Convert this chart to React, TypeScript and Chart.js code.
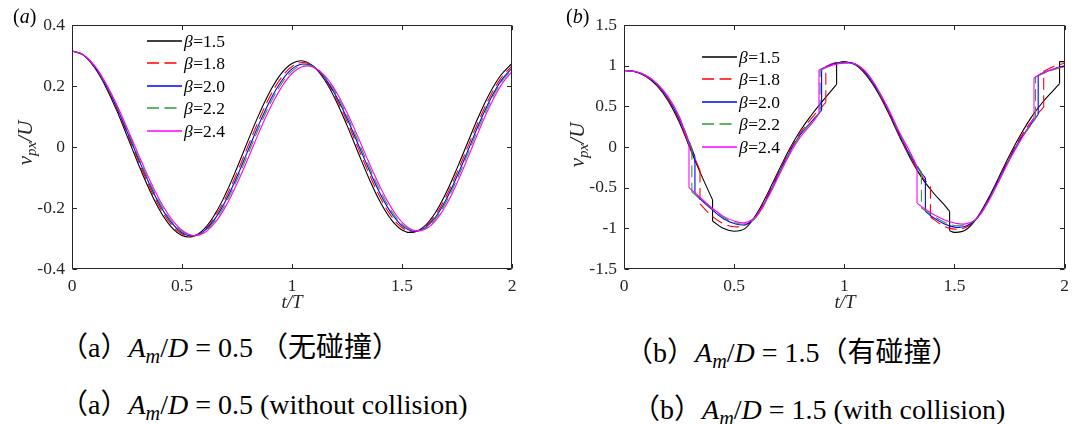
import React, { useEffect, useRef } from 'react';
import { Chart, registerables } from 'chart.js';

Chart.register(...registerables);

// ---------------- data ----------------
const BETA_LABELS = ['1.5', '1.8', '2.0', '2.2', '2.4'];
const X_TICKS = [0, 0.5, 1, 1.5, 2];
const Y_TICKS_A = [-0.4, -0.2, 0, 0.2, 0.4];
const Y_TICKS_B = [-1.5, -1, -0.5, 0, 0.5, 1, 1.5];

// panel (a): t/T samples
const T_A = [0, 0.05, 0.1, 0.15, 0.2, 0.25, 0.3, 0.35, 0.4, 0.45, 0.5, 0.55, 0.6, 0.65, 0.7, 0.75, 0.8, 0.85, 0.9, 0.95, 1,
  1.05, 1.1, 1.15, 1.2, 1.25, 1.3, 1.35, 1.4, 1.45, 1.5, 1.55, 1.6, 1.65, 1.7, 1.75, 1.8, 1.85, 1.9, 1.95, 2];

const VA_B15 = [0.315, 0.302, 0.263, 0.202, 0.125, 0.037, -0.053, -0.137, -0.209, -0.261, -0.290, -0.293, -0.269, -0.220, -0.151, -0.068, 0.021, 0.107, 0.182, 0.240, 0.274,
  0.282, 0.263, 0.218, 0.152, 0.071, -0.017, -0.103, -0.179, -0.237, -0.272, -0.280, -0.261, -0.217, -0.151, -0.070, 0.017, 0.103, 0.178, 0.236, 0.274];
const VA_B18 = [0.315, 0.302, 0.265, 0.206, 0.131, 0.045, -0.043, -0.127, -0.199, -0.253, -0.285, -0.292, -0.273, -0.228, -0.164, -0.084, 0.003, 0.089, 0.166, 0.226, 0.264,
  0.277, 0.262, 0.223, 0.161, 0.084, -0.002, -0.087, -0.164, -0.225, -0.264, -0.278, -0.264, -0.225, -0.163, -0.084, 0.002, 0.088, 0.165, 0.226, 0.266];
const VA_B20 = [0.315, 0.303, 0.266, 0.209, 0.135, 0.051, -0.035, -0.118, -0.191, -0.246, -0.281, -0.291, -0.276, -0.235, -0.174, -0.097, -0.011, 0.075, 0.152, 0.214, 0.256,
  0.272, 0.262, 0.226, 0.168, 0.094, 0.010, -0.074, -0.152, -0.215, -0.258, -0.276, -0.267, -0.232, -0.173, -0.096, -0.011, 0.076, 0.154, 0.217, 0.259];
const VA_B22 = [0.315, 0.303, 0.268, 0.211, 0.139, 0.057, -0.029, -0.112, -0.184, -0.241, -0.277, -0.291, -0.279, -0.241, -0.183, -0.107, -0.023, 0.063, 0.141, 0.205, 0.249,
  0.269, 0.262, 0.229, 0.175, 0.103, 0.021, -0.064, -0.142, -0.207, -0.253, -0.274, -0.269, -0.237, -0.181, -0.106, -0.021, 0.066, 0.146, 0.211, 0.254];
const VA_B24 = [0.315, 0.303, 0.269, 0.214, 0.144, 0.063, -0.021, -0.103, -0.176, -0.234, -0.273, -0.290, -0.282, -0.248, -0.193, -0.120, -0.038, 0.048, 0.127, 0.193, 0.241,
  0.264, 0.261, 0.233, 0.182, 0.113, 0.033, -0.051, -0.130, -0.197, -0.246, -0.272, -0.271, -0.244, -0.191, -0.118, -0.034, 0.054, 0.135, 0.202, 0.248];

// panel (b): [t/T, v/U] pairs; a repeated t marks a collision jump
const VB_B15: [number, number][] = [[0, 0.94], [0.05, 0.925], [0.1, 0.865], [0.15, 0.75], [0.2, 0.57], [0.25, 0.31], [0.3, -0.02], [0.35, -0.34],
  [0.402, -0.65], [0.402, -0.91], [0.45, -1.0], [0.5, -1.035], [0.55, -1.0], [0.6, -0.83], [0.65, -0.58], [0.7, -0.3], [0.75, -0.03],
  [0.8, 0.2], [0.85, 0.39], [0.9, 0.56], [0.965, 0.77], [0.965, 1.03], [1.0, 1.05], [1.05, 1.01], [1.1, 0.88], [1.15, 0.68], [1.2, 0.42],
  [1.25, 0.13], [1.3, -0.14], [1.35, -0.37], [1.4, -0.55], [1.45, -0.7], [1.478, -0.79], [1.478, -1.03], [1.5, -1.05], [1.55, -1.02],
  [1.6, -0.88], [1.65, -0.65], [1.7, -0.38], [1.75, -0.1], [1.8, 0.15], [1.85, 0.37], [1.9, 0.55], [1.95, 0.7], [1.977, 0.78],
  [1.977, 1.05], [2.0, 1.05]];
const VB_B18: [number, number][] = [[0, 0.94], [0.05, 0.927], [0.1, 0.87], [0.15, 0.76], [0.2, 0.585], [0.25, 0.33], [0.3, 0.0],
  [0.345, -0.29], [0.345, -0.7], [0.4, -0.85], [0.45, -0.94], [0.5, -0.98], [0.55, -0.96], [0.6, -0.85], [0.65, -0.6], [0.7, -0.32],
  [0.75, -0.05], [0.8, 0.17], [0.85, 0.35], [0.9, 0.5], [0.916, 0.55], [0.916, 0.99], [0.95, 1.03], [1.0, 1.045], [1.05, 1.015],
  [1.1, 0.89], [1.15, 0.69], [1.2, 0.43], [1.25, 0.14], [1.3, -0.13], [1.35, -0.35], [1.391, -0.49], [1.391, -0.86], [1.45, -0.97],
  [1.5, -1.01], [1.55, -0.99], [1.6, -0.88], [1.65, -0.66], [1.7, -0.4], [1.75, -0.12], [1.8, 0.12], [1.85, 0.32], [1.905, 0.49],
  [1.905, 0.93], [1.95, 0.99], [2.0, 1.03]];
const VB_B20: [number, number][] = [[0, 0.94], [0.05, 0.928], [0.1, 0.875], [0.15, 0.77], [0.2, 0.6], [0.25, 0.35], [0.3, 0.03],
  [0.322, -0.12], [0.322, -0.58], [0.35, -0.65], [0.4, -0.77], [0.45, -0.88], [0.5, -0.94], [0.55, -0.955], [0.6, -0.86], [0.65, -0.62],
  [0.7, -0.34], [0.75, -0.07], [0.8, 0.15], [0.85, 0.31], [0.897, 0.45], [0.897, 0.96], [0.95, 1.02], [1.0, 1.04], [1.05, 1.02],
  [1.1, 0.9], [1.15, 0.7], [1.2, 0.45], [1.25, 0.16], [1.3, -0.11], [1.35, -0.32], [1.368, -0.38], [1.368, -0.79], [1.4, -0.86],
  [1.45, -0.94], [1.5, -0.985], [1.55, -0.975], [1.6, -0.885], [1.65, -0.67], [1.7, -0.41], [1.75, -0.14], [1.8, 0.1], [1.85, 0.29],
  [1.88, 0.4], [1.88, 0.88], [1.9, 0.91], [1.95, 0.96], [2.0, 1.0]];
const VB_B22: [number, number][] = [[0, 0.94], [0.05, 0.929], [0.1, 0.878], [0.15, 0.775], [0.2, 0.61], [0.25, 0.365],
  [0.308, -0.01], [0.308, -0.55], [0.35, -0.64], [0.4, -0.76], [0.45, -0.86], [0.5, -0.93], [0.55, -0.945], [0.6, -0.86], [0.65, -0.63],
  [0.7, -0.35], [0.75, -0.08], [0.8, 0.14], [0.85, 0.3], [0.89, 0.43], [0.89, 0.94], [0.95, 1.01], [1.0, 1.035], [1.05, 1.02],
  [1.1, 0.91], [1.15, 0.71], [1.2, 0.46], [1.25, 0.17], [1.3, -0.09], [1.35, -0.31], [1.35, -0.75], [1.4, -0.84], [1.45, -0.92],
  [1.5, -0.965], [1.55, -0.96], [1.6, -0.885], [1.65, -0.68], [1.7, -0.42], [1.75, -0.15], [1.8, 0.09], [1.85, 0.28], [1.868, 0.35],
  [1.868, 0.86], [1.9, 0.9], [1.95, 0.95], [2.0, 0.99]];
const VB_B24: [number, number][] = [[0, 0.94], [0.05, 0.93], [0.1, 0.88], [0.15, 0.78], [0.2, 0.62], [0.25, 0.38], [0.295, 0.04],
  [0.295, -0.5], [0.35, -0.63], [0.4, -0.75], [0.45, -0.85], [0.5, -0.91], [0.55, -0.93], [0.6, -0.85], [0.65, -0.64], [0.7, -0.37],
  [0.75, -0.1], [0.8, 0.12], [0.85, 0.28], [0.885, 0.41], [0.885, 0.95], [0.95, 1.01], [1.0, 1.03], [1.05, 1.02], [1.1, 0.92],
  [1.15, 0.72], [1.2, 0.47], [1.25, 0.18], [1.3, -0.07], [1.33, -0.24], [1.33, -0.69], [1.35, -0.73], [1.4, -0.82], [1.45, -0.89],
  [1.5, -0.935], [1.55, -0.945], [1.6, -0.88], [1.65, -0.69], [1.7, -0.43], [1.75, -0.16], [1.8, 0.08], [1.861, 0.36], [1.861, 0.85],
  [1.9, 0.91], [1.95, 0.96], [2.0, 0.99]];

const SERIES_A = [VA_B15, VA_B18, VA_B20, VA_B22, VA_B24];
const SERIES_B = [VB_B15, VB_B18, VB_B20, VB_B22, VB_B24];

// ---------------- style ----------------
const COLORS = ['#000000', '#ff0000', '#0000ff', '#2e9e2e', '#ff00ff'];
const DASHES: number[][] = [[], [12, 5.5], [], [12, 5.5], []];
const SERIF = "'Liberation Serif', 'Times New Roman', Times, serif";
const CJK = "'Noto Sans CJK SC', sans-serif";
const AXIS_COLOR = '#262626';
const TICK_SIZE = 17.5;

const framePlugin = {
  id: 'frameTicksLegend',
  afterDatasetsDraw(chart: any, _args: any, opts: any) {
    const { ctx, chartArea: a } = chart;
    const xs = chart.scales.x;
    const ys = chart.scales.y;
    ctx.save();
    ctx.strokeStyle = AXIS_COLOR;
    ctx.lineWidth = 1;
    ctx.setLineDash([]);
    const L = Math.round(a.left) + 0.5;
    const R = Math.round(a.right) - 0.5;
    const T = Math.round(a.top) + 0.5;
    const B = Math.round(a.bottom) - 0.5;
    const tl = 4.5;
    ctx.beginPath();
    ctx.rect(L, T, R - L, B - T);
    for (const v of X_TICKS) {
      const p = Math.round(xs.getPixelForValue(v)) + 0.5;
      ctx.moveTo(p, B); ctx.lineTo(p, B - tl);
      ctx.moveTo(p, T); ctx.lineTo(p, T + tl);
    }
    for (const v of opts.yTicks) {
      const p = Math.round(ys.getPixelForValue(v)) + 0.5;
      ctx.moveTo(L, p); ctx.lineTo(L + tl, p);
      ctx.moveTo(R, p); ctx.lineTo(R - tl, p);
    }
    ctx.stroke();

    // legend (no box)
    const lx = a.left + opts.legendX;
    const ly = a.top + opts.legendY;
    BETA_LABELS.forEach((lab, i) => {
      const y = Math.round(ly + i * opts.legendGap);
      ctx.save();
      ctx.beginPath();
      ctx.strokeStyle = COLORS[i];
      ctx.setLineDash(DASHES[i]);
      ctx.lineWidth = 1.4;
      ctx.moveTo(lx, y);
      ctx.lineTo(lx + 35, y);
      ctx.stroke();
      ctx.restore();
      ctx.fillStyle = '#000';
      ctx.textBaseline = 'middle';
      ctx.textAlign = 'left';
      const tx = lx + 37;
      ctx.font = `italic ${TICK_SIZE}px ${SERIF}`;
      ctx.fillText('β', tx, y + 1);
      const w = ctx.measureText('β').width;
      ctx.font = `${TICK_SIZE}px ${SERIF}`;
      ctx.fillText('=' + lab, tx + w + 0.5, y + 1);
    });
    ctx.restore();
  },
};

function lineDataset(points: { x: number; y: number }[], i: number, tension: number) {
  return {
    data: points,
    borderColor: COLORS[i],
    borderDash: DASHES[i],
    borderWidth: 1.1,
    pointRadius: 0,
    fill: false,
    tension,
    order: 10 - i,
  };
}

function datasetsA() {
  return SERIES_A.map((vals, i) => lineDataset(T_A.map((t, k) => ({ x: t, y: vals[k] })), i, 0.4));
}

function datasetsB() {
  const out: any[] = [];
  SERIES_B.forEach((pts, i) => {
    let piece: { x: number; y: number }[] = [{ x: pts[0][0], y: pts[0][1] }];
    for (let k = 1; k < pts.length; k++) {
      const p = { x: pts[k][0], y: pts[k][1] };
      const q = { x: pts[k - 1][0], y: pts[k - 1][1] };
      if (p.x === q.x) {
        out.push(lineDataset(piece, i, 0.4));
        out.push(lineDataset([q, p], i, 0));
        piece = [p];
      } else {
        piece.push(p);
      }
    }
    out.push(lineDataset(piece, i, 0.4));
  });
  return out;
}

function makeConfig(datasets: any[], yMin: number, yMax: number, yTicks: number[], padRight: number, legendX: number, legendY: number): any {
  const tickFont = { family: SERIF, size: TICK_SIZE };
  return {
    type: 'line',
    data: { datasets },
    plugins: [framePlugin],
    options: {
      animation: false,
      responsive: false,
      maintainAspectRatio: false,
      devicePixelRatio: 1,
      events: [],
      layout: { padding: { left: 0, top: 25, right: padRight, bottom: 0 } },
      plugins: {
        legend: { display: false },
        tooltip: { enabled: false },
        title: { display: false },
        frameTicksLegend: { yTicks, legendX, legendY, legendGap: 22.4 },
      },
      scales: {
        x: {
          type: 'linear',
          min: 0,
          max: 2,
          afterBuildTicks: (s: any) => { s.ticks = X_TICKS.map((v) => ({ value: v })); },
          afterFit: (s: any) => { s.height = 31; },
          ticks: { font: tickFont, color: AXIS_COLOR, padding: 7, maxRotation: 0, autoSkip: false, callback: (v: any) => String(v) },
          grid: { display: false, drawTicks: false },
          border: { display: false },
        },
        y: {
          type: 'linear',
          min: yMin,
          max: yMax,
          afterBuildTicks: (s: any) => { s.ticks = yTicks.map((v) => ({ value: v })); },
          afterFit: (s: any) => { s.width = 72; },
          ticks: { font: tickFont, color: AXIS_COLOR, padding: 7, autoSkip: false, callback: (v: any) => String(v) },
          grid: { display: false, drawTicks: false },
          border: { display: false },
        },
      },
    },
  };
}

const Sub = ({ children }: { children: any }) => (
  <span style={{ fontSize: '0.72em', verticalAlign: '-0.3em' }}>{children}</span>
);

const C = ({ children }: { children: any }) => <span style={{ fontFamily: CJK }}>{children}</span>;

const YTitle = ({ cx, cy }: { cx: number; cy: number }) => (
  <div style={{ position: 'absolute', left: cx, top: cy, transform: 'translate(-50%, -50%) rotate(-90deg)', fontFamily: SERIF, fontSize: 21, fontStyle: 'italic', color: AXIS_COLOR, whiteSpace: 'nowrap', lineHeight: 1 }}>
    v<Sub>px</Sub>/U
  </div>
);

const XTitle = ({ cx, cy }: { cx: number; cy: number }) => (
  <div style={{ position: 'absolute', left: cx, top: cy, transform: 'translate(-50%, -50%)', fontFamily: SERIF, fontSize: 19, fontStyle: 'italic', color: AXIS_COLOR, whiteSpace: 'nowrap', lineHeight: 1 }}>
    t/T
  </div>
);

const captionStyle = (left: number, top: number): React.CSSProperties => ({
  position: 'absolute', left, top, fontFamily: SERIF, fontSize: 28, lineHeight: '30px', color: '#000', whiteSpace: 'nowrap',
});

const Am = () => (
  <>
    <i>A</i><Sub><i>m</i></Sub>/<i>D</i>
  </>
);

export default function App() {
  const refA = useRef<HTMLCanvasElement>(null);
  const refB = useRef<HTMLCanvasElement>(null);

  useEffect(() => {
    const chartA = new Chart(refA.current as HTMLCanvasElement, makeConfig(datasetsA(), -0.4, 0.4, Y_TICKS_A, 28, 75, 16));
    const chartB = new Chart(refB.current as HTMLCanvasElement, makeConfig(datasetsB(), -1.5, 1.5, Y_TICKS_B, 11, 78, 32));
    return () => {
      chartA.destroy();
      chartB.destroy();
    };
  }, []);

  return (
    <div style={{ position: 'absolute', left: 0, top: 0, width: 1076, height: 424, background: '#fff', overflow: 'hidden' }}>
      <canvas ref={refA} width={540} height={300} style={{ position: 'absolute', left: 0, top: 0, width: 540, height: 300 }} />
      <canvas ref={refB} width={524} height={300} style={{ position: 'absolute', left: 552, top: 0, width: 524, height: 300 }} />

      <div style={{ position: 'absolute', left: 13, top: 6, fontFamily: SERIF, fontSize: 20, color: '#000', lineHeight: 1 }}>(<i>a</i>)</div>
      <div style={{ position: 'absolute', left: 566, top: 6, fontFamily: SERIF, fontSize: 20, color: '#000', lineHeight: 1 }}>(<i>b</i>)</div>

      <YTitle cx={27} cy={143} />
      <YTitle cx={579} cy={145} />
      <XTitle cx={292} cy={301} />
      <XTitle cx={845} cy={301} />

      <div style={captionStyle(60, 330)}><C>（</C>a<C>）</C><Am /> = 0.5 <C>（无碰撞）</C></div>
      <div style={captionStyle(60, 387)}><C>（</C>a<C>）</C><Am /> = 0.5 (without collision)</div>
      <div style={captionStyle(625, 335)}><C>（</C>b<C>）</C><Am /> = 1.5<C>（有碰撞）</C></div>
      <div style={captionStyle(632, 392)}><C>（</C>b<C>）</C><Am /> = 1.5 (with collision)</div>
    </div>
  );
}
